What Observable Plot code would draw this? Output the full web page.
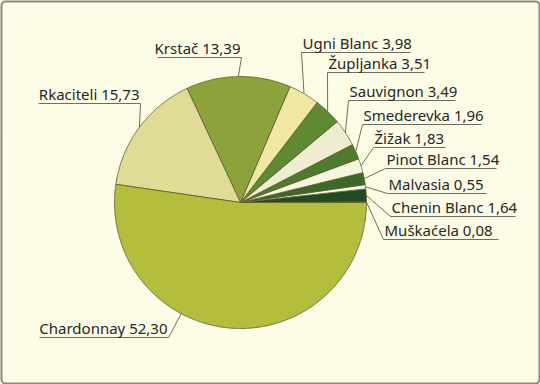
<!DOCTYPE html>
<html>
<head>
<meta charset="utf-8">
<script src="https://cdn.jsdelivr.net/npm/d3@7"></script>
<script src="https://cdn.jsdelivr.net/npm/@observablehq/plot@0.6"></script>
<style>
  html, body { margin: 0; padding: 0; background: #fdfde7; overflow: hidden; }
  svg { display: block; }
</style>
</head>
<body>
<div id="chart"></div>
<script>
// ---- data (counter-clockwise from 3 o'clock) ----
const varieties = ["Muškaćela", "Chenin Blanc", "Malvasia", "Pinot Blanc", "Žižak", "Smederevka",
  "Sauvignon", "Župljanka", "Ugni Blanc", "Krstač", "Rkaciteli", "Chardonnay"];
const shares = [0.08, 1.64, 0.55, 1.54, 1.83, 1.96, 3.49, 3.51, 3.98, 13.39, 15.73, 52.30];
const colors = ["#1d3f1c", "#214b20", "#f8f8ea", "#3c6828", "#f6f5de", "#507b2e",
  "#efedcf", "#5f8a32", "#f0e7a4", "#8ca23a", "#e0dc98", "#b5bd3c"];

// ---- layout (pixels) ----
const cx = 240, cy = 202, R = 126;
// label anchors: side, underline y, underline x0/x1, position along slice arc (0..1)
const labelLayout = [
  {side: "right", uy: 239, ux0: 383, ux1: 498, t: 0.5},
  {side: "right", uy: 216, ux0: 390, ux1: 515, t: 0.5},
  {side: "right", uy: 193, ux0: 387, ux1: 486, t: 0.5},
  {side: "right", uy: 168, ux0: 385, ux1: 496, t: 0.5},
  {side: "right", uy: 147, ux0: 373, ux1: 445, t: 0.5},
  {side: "right", uy: 124, ux0: 362, ux1: 481, t: 0.5},
  {side: "right", uy: 100, ux0: 348, ux1: 455, t: 0.5},
  {side: "right", uy: 72, ux0: 327, ux1: 424, t: 0.5},
  {side: "right", uy: 52, ux0: 301, ux1: 410, t: 0.5},
  {side: "left", uy: 57, ux0: 157, ux1: 241, t: 0.5},
  {side: "left", uy: 103, ux0: 38, ux1: 140, t: 0.5},
  {side: "left", uy: 337, ux0: 39, ux1: 168, t: 0.373}
];

const total = d3.sum(shares);
let acc = 0;
const slices = varieties.map((name, i) => {
  const a0 = acc / total * 2 * Math.PI;
  acc += shares[i];
  const a1 = acc / total * 2 * Math.PI;
  return {name, value: shares[i], a0, a1};
});

const pts = [];
slices.forEach(s => {
  pts.push({name: s.name, x: cx, y: cy});
  const n = Math.max(2, Math.ceil((s.a1 - s.a0) / (Math.PI / 360)));
  for (let k = 0; k <= n; k++) {
    const a = s.a0 + (s.a1 - s.a0) * k / n;
    pts.push({name: s.name, x: cx + R * Math.cos(a), y: cy - R * Math.sin(a)});
  }
  pts.push({name: s.name, x: cx, y: cy});
});

const fmt = v => v.toFixed(2).replace(".", ",");
const labels = slices.map((s, i) => {
  const L = labelLayout[i];
  const a = s.a0 + (s.a1 - s.a0) * L.t;
  const px = cx + R * Math.cos(a), py = cy - R * Math.sin(a);
  const lx = L.side === "right" ? L.ux0 : L.ux1;
  return {
    text: `${s.name} ${fmt(s.value)}`, side: L.side,
    px, py, lx, uy: L.uy, ux0: L.ux0, ux1: L.ux1,
    tx: L.side === "right" ? L.ux0 + 1 : L.ux1 - 1
  };
});

const lineColor = "#6e6e5e";
const chart = Plot.plot({
  width: 540, height: 384,
  margin: 0,
  x: {domain: [0, 540], axis: null},
  y: {domain: [0, 384], reverse: true, axis: null},
  color: {domain: varieties, range: colors},
  style: {background: "#fdfde7", fontFamily: "'Noto Sans', sans-serif"},
  marks: [
    Plot.line(pts, {x: "x", y: "y", z: "name", fill: "name", stroke: "#5a5a2c",
      strokeWidth: 0.8, strokeLinejoin: "round"}),
    Plot.link(labels, {x1: "px", y1: "py", x2: "lx", y2: "uy", stroke: lineColor, strokeWidth: 1}),
    Plot.link(labels, {x1: "ux0", y1: "uy", x2: "ux1", y2: "uy", stroke: lineColor, strokeWidth: 1}),
    Plot.text(labels.filter(d => d.side === "right"), {x: "tx", y: d => d.uy - 4, text: "text",
      textAnchor: "start", lineAnchor: "bottom", fontSize: 15, fill: "#262626"}),
    Plot.text(labels.filter(d => d.side === "left"), {x: "tx", y: d => d.uy - 4, text: "text",
      textAnchor: "end", lineAnchor: "bottom", fontSize: 15, fill: "#262626"}),
    Plot.frame({stroke: "#8a8a7c", strokeWidth: 2, rx: 4, inset: 1})
  ]
});
document.getElementById("chart").append(chart);
</script>
</body>
</html>
